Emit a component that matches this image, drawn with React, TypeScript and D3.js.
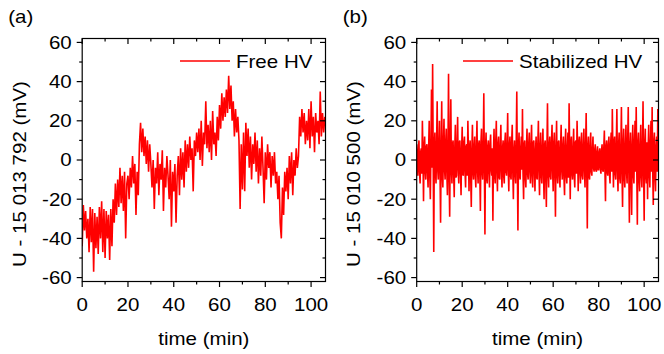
import React from "react";
import * as d3 from "d3";

// Sampling intervals of the recorded series (minutes)
const freeStepMin = 0.5;
const stabStepMin = 0.25;

// Free HV: U - 15 013 792 (mV), one value every 0.5 min from t = 0
const freeHV: number[] = [
  -44, -23, -36, -26, -40, -30, -47, -24, -42, -25,
  -57, -27, -45, -29, -48, -24, -40, -21, -47, -25,
  -50, -26, -40, -28, -51, -25, -44, -20, -32, -12,
  -28, -10, -24, -4, -22, -8, -26, -6, -40, -12,
  -8, -20, -4, -14, 2, -12, -2, -28, -6, -18,
  8, 19, 4, 16, 2, 12, -2, 10, -6, 8,
  -2, -14, 0, -25, -4, -12, 4, -18, -2, -10,
  5, -26, -4, -14, 2, -8, -20, 0, -34, -6,
  -16, -2, -32, -8, 2, -18, 6, -10, 4, -14,
  10, -6, 8, -4, 12, 0, 6, -16, 10, 2,
  14, 4, 16, 0, 20, -3, 14, 8, 30, 6,
  18, 4, 20, 0, 25, 8, 14, 2, 22, 10,
  28, 16, 34, 20, 32, 22, 36, 24, 43, 26,
  38, 20, 30, 12, 26, 14, 22, 10, -25, 8,
  -15, 14, -16, 19, 2, 16, -4, 12, -10, 8,
  -2, 14, -6, 10, -12, 6, -8, 12, -4, -22,
  4, -10, 8, -4, 4, -14, 2, -8, 4, -12,
  -6, -20, -8, -32, -40, -14, -28, -6, -16, -4,
  -20, 2, -12, 4, -18, 0, -8, 6, -4, 2,
  22, 12, 26, 14, 24, 8, 20, 10, 26, 6,
  30, 12, 22, 4, 24, 14, 20, 8, 35, 12,
  24, 14, 22,
];

// Stabilized HV: U - 15 010 500 (mV), one value every 0.25 min from t = 0
const stabilizedHV: number[] = [
  8, -3, -8, 5, 10, -6, -12, 4, 6, -7, 20, 3, -21, 6, 12, -5, -10, 7, 8, -6,
  -14, 6, 20, -8, -20, 5, 36, -4, 49, 2, -47, 7, 14, -6, -12, 8, 30, -5, -10, 6,
  20, -6, -32, 4, 30, -7, -14, 8, 21, -5, -10, 9, 16, -6, -18, 5, 44, -8, -29, 7,
  31, -4, -12, 8, 10, -7, -19, 6, 18, -9, -8, 7, 22, -5, -12, 9, 10, -6, -18, 5,
  17, -7, -8, 9, 12, -6, -14, 7, 8, -8, 20, 4, -16, 6, 10, -9, -24, 5, 18, -6,
  -10, 7, 12, -8, -14, 6, 20, -5, -12, 8, 10, -7, -26, 9, 16, -6, -10, 5, 34, -4,
  -38, 6, 14, -9, -12, 7, 10, -6, -14, 8, 13, -5, -8, 6, -31, 4, 16, -7, -12, 9,
  20, -6, -16, 8, 12, -9, -10, 7, 18, -5, -14, 6, 10, -8, -12, 9, 14, -6, -8, 7,
  24, -5, -16, 7, 12, -8, -10, 9, 18, -6, -20, 5, 10, -7, -12, 8, 35, -4, -36, 6,
  14, -8, -10, 6, 12, -5, 26, -7, -20, 8, 10, -9, -14, 6, 16, -7, -10, 8, 14, -6,
  -12, 7, 18, -8, -14, 9, 10, -6, -16, 5, 12, -9, -10, 8, 20, -5, -18, 6, 14, -8,
  -12, 6, 16, -7, -20, 8, 10, -9, -24, 5, 29, -6, -14, 7, 12, -8, -10, 9, 18, -5,
  -16, 8, 14, -6, -29, 5, 20, -7, -12, 9, 10, -8, -14, 6, 18, -5, -10, 7, 12, -9,
  -18, 7, 16, -8, -12, 6, 14, -9, 29, 4, -20, 8, 12, -7, -10, 6, 16, -8, -14, 9,
  10, -7, 20, 5, -16, 8, 12, -6, -12, 9, 14, -8, -10, 7, 16, -5, -14, 6, 24, -4,
  -35, 6, 12, -8, -10, 7, 14, -6, -8, 5, 12, -4, -6, 5, 8, -5, -6, 4, 7, -5,
  -5, 4, 6, -4, -7, 5, 8, -5, -6, 6, 15, -5, -21, 7, 10, -6, -8, 8, 12, -7,
  -12, 8, 14, -6, 26, 3, -14, 9, 12, -7, -10, 8, 26, -5, -16, 7, 14, -9, -12, 6,
  27, -5, -24, 8, 16, -9, -14, 7, 18, -6, -12, 9, 27, -4, -32, 6, 14, -8, -28, 7,
  18, -7, -12, 9, 20, -6, 27, -5, -33, 8, 14, -9, -16, 7, 18, -8, -14, 6, 30, -5,
  -31, 7, 16, -8, -12, 9, -20, 6, 18, -7, -14, 8, 20, -6, 27, -5, -23, 9, 14, -8,
  -16, 7, 12, -6, 26,
];

const xTicks = [0, 20, 40, 60, 80, 100];
const yTicks = [-60, -40, -20, 0, 20, 40, 60];
const xMinor = [10, 30, 50, 70, 90];
const yMinor = [-50, -30, -10, 10, 30, 50];

const xDomain: [number, number] = [0, 106.3];
const yDomain: [number, number] = [-62, 62];

const FONT = "'Liberation Sans', Arial, Helvetica, sans-serif";
const FS = 18;
const SX = 1.14; // glyphs in the reference are horizontally widened
const RED = "#ff0000";

type TProps = {
  x: number;
  y: number;
  anchor?: "start" | "middle" | "end";
  rotate?: number;
  dy?: string;
  children: React.ReactNode;
};

function T({ x, y, anchor = "start", rotate = 0, dy, children }: TProps) {
  return (
    <text
      transform={`translate(${x},${y}) rotate(${rotate}) scale(${SX},1)`}
      textAnchor={anchor}
      dy={dy}
      fontSize={FS}
      fontFamily={FONT}
      fill="#000"
    >
      {children}
    </text>
  );
}

type PanelProps = {
  x0: number;
  x1: number;
  values: number[];
  step: number;
  tag: string;
  yLabel: string;
  yLabelX: number;
  legend: string;
  legendX: number;
};

const Y0 = 38.5;
const Y1 = 281.5;

function Panel({ x0, x1, values, step, tag, yLabel, yLabelX, legend, legendX }: PanelProps) {
  const x = d3.scaleLinear().domain(xDomain).range([x0, x1]);
  const y = d3.scaleLinear().domain(yDomain).range([Y1, Y0]);
  const line = d3
    .line<number>()
    .x((_, i) => x(i * step))
    .y((d) => y(d));
  const clipId = "clip-" + tag.replace(/[^a-z]/g, "");
  const major = 5.5;
  const minor = 3;
  return (
    <g>
      <defs>
        <clipPath id={clipId}>
          <rect x={x0} y={Y0} width={x1 - x0} height={Y1 - Y0} />
        </clipPath>
      </defs>
      <T x={x0 - 74} y={23}>
        {tag}
      </T>
      <path
        d={line(values) || ""}
        fill="none"
        stroke={RED}
        strokeWidth={1.6}
        strokeLinejoin="miter"
        clipPath={`url(#${clipId})`}
      />
      {/* frame */}
      <rect x={x0} y={Y0} width={x1 - x0} height={Y1 - Y0} fill="none" stroke="#000" strokeWidth={1.2} />
      {/* y ticks */}
      {yTicks.map((t) => (
        <g key={"y" + t}>
          <line x1={x0 - major} x2={x0} y1={y(t)} y2={y(t)} stroke="#000" strokeWidth={1.2} />
          <line x1={x1 - major} x2={x1} y1={y(t)} y2={y(t)} stroke="#000" strokeWidth={1.2} />
          <T x={x0 - 10.5} y={y(t)} dy="0.36em" anchor="end">
            {t}
          </T>
        </g>
      ))}
      {yMinor.map((t) => (
        <g key={"ym" + t}>
          <line x1={x0 - minor} x2={x0} y1={y(t)} y2={y(t)} stroke="#000" strokeWidth={1.2} />
          <line x1={x1 - minor} x2={x1} y1={y(t)} y2={y(t)} stroke="#000" strokeWidth={1.2} />
        </g>
      ))}
      {/* x ticks */}
      {xTicks.map((t) => (
        <g key={"x" + t}>
          <line x1={x(t)} x2={x(t)} y1={Y1} y2={Y1 + major} stroke="#000" strokeWidth={1.2} />
          <line x1={x(t)} x2={x(t)} y1={Y0} y2={Y0 + major} stroke="#000" strokeWidth={1.2} />
          <T x={x(t)} y={310.5} anchor="middle">
            {t}
          </T>
        </g>
      ))}
      {xMinor.map((t) => (
        <g key={"xm" + t}>
          <line x1={x(t)} x2={x(t)} y1={Y1} y2={Y1 + minor} stroke="#000" strokeWidth={1.2} />
          <line x1={x(t)} x2={x(t)} y1={Y0} y2={Y0 + minor} stroke="#000" strokeWidth={1.2} />
        </g>
      ))}
      {/* x label */}
      <T x={(x0 + x1) / 2} y={344.5} anchor="middle">
        time (min)
      </T>
      {/* y label */}
      <T x={yLabelX} y={174} anchor="middle" rotate={-90}>
        {yLabel}
      </T>
      {/* legend */}
      <line x1={legendX} x2={legendX + 50} y1={61} y2={61} stroke={RED} strokeWidth={1.5} />
      <T x={legendX + 56} y={67.5}>
        {legend}
      </T>
    </g>
  );
}

export default function App() {
  return (
    <svg
      width={664}
      height={354}
      viewBox="0 0 664 354"
      style={{ position: "absolute", left: 0, top: 0, background: "#fff" }}
    >
      <rect width={664} height={354} fill="#fff" />
      <Panel
        x0={82.2}
        x1={325.5}
        values={freeHV}
        step={freeStepMin}
        tag="(a)"
        yLabel="U - 15 013 792 (mV)"
        yLabelX={25.5}
        legend="Free HV"
        legendX={180}
      />
      <Panel
        x0={416.7}
        x1={658.5}
        values={stabilizedHV}
        step={stabStepMin}
        tag="(b)"
        yLabel="U - 15 010 500 (mV)"
        yLabelX={360}
        legend="Stabilized HV"
        legendX={463}
      />
    </svg>
  );
}
